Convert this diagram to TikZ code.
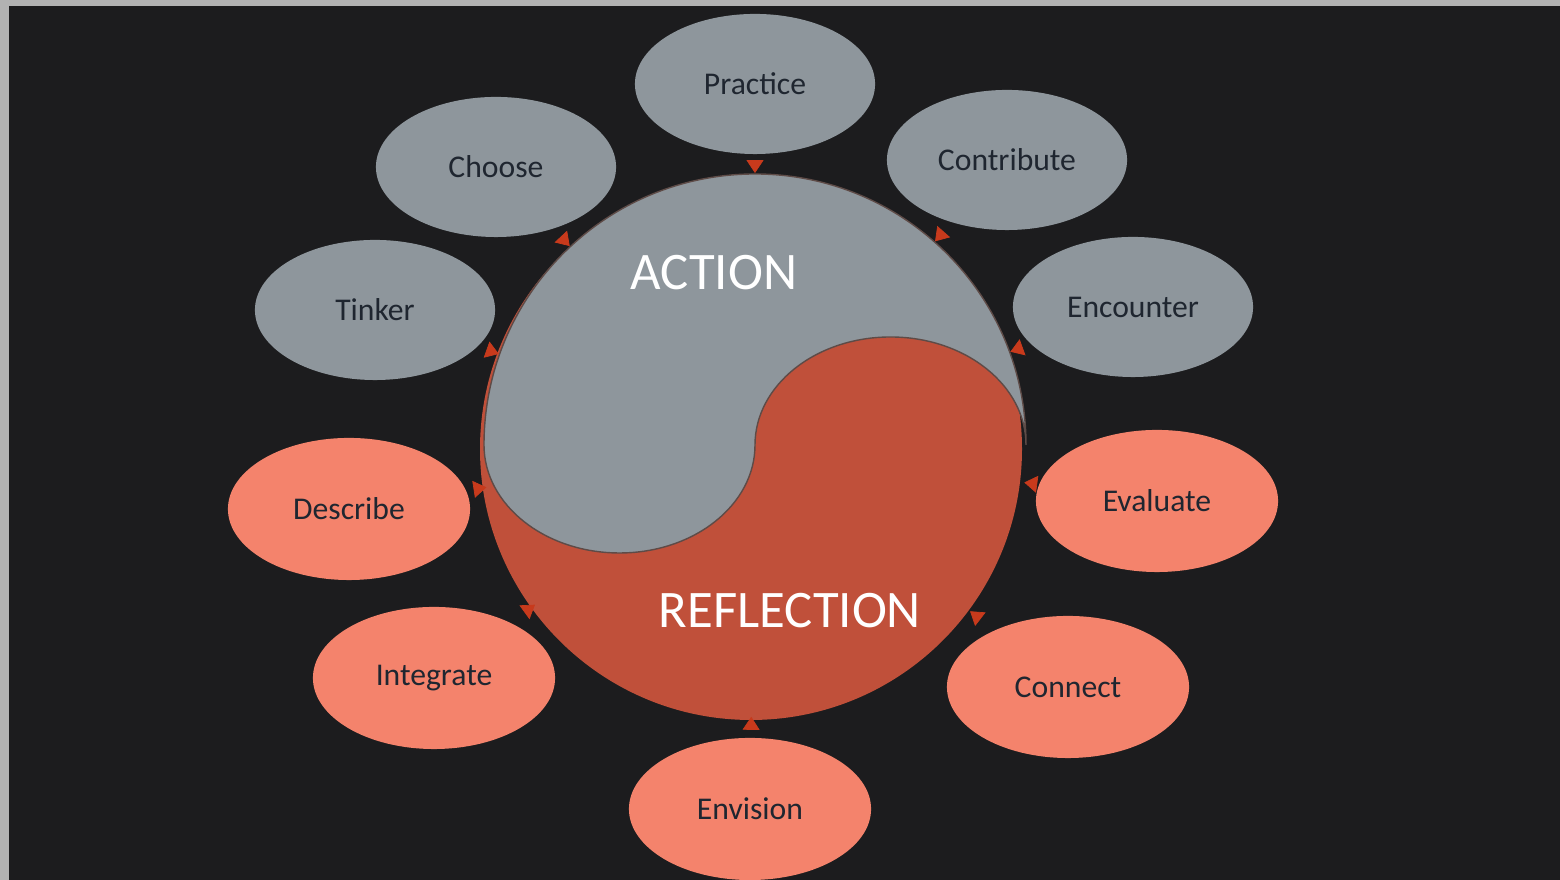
\documentclass[tikz,border=0pt]{standalone}
\usepackage{fontspec}
\setmainfont{Carlito}
\usepackage{xcolor}
\usepackage{tikz}
\usetikzlibrary{shapes.geometric, positioning}
\usetikzlibrary{arrows.meta}
\definecolor{board}{HTML}{1C1C1E}
\definecolor{frame}{HTML}{B2B2B2}
\definecolor{slate}{HTML}{8E969C}
\definecolor{rust}{HTML}{C0503A}
\definecolor{salmon}{HTML}{F4836C}
\definecolor{tipred}{HTML}{C83A1C}
\definecolor{ink}{HTML}{1F2630}
\definecolor{seam}{HTML}{5E4B47}
\tikzset{>={Triangle[width=1.7mm,length=1.3mm,color=tipred]}}

\begin{document}
\begin{tikzpicture}[x=0.01cm, y=0.01cm, actnode/.style={ellipse, fill=slate, text=ink, minimum width=2.4cm, minimum height=1.4cm, font=\fontsize{9}{11}\selectfont}, refnode/.style={ellipse, fill=salmon, text=ink, minimum width=2.42cm, minimum height=1.42cm, font=\fontsize{9}{11}\selectfont}, bigword/.style={text=white, font=\fontsize{15}{18}\selectfont}, link/.style={->, draw=board, line width=0.2pt}]

    %Board
    \useasboundingbox (0,0) rectangle (1560,880);
    \fill[frame] (0,0) rectangle (1560,880);
    \fill[board] (9,0) rectangle (1560,874);

    %Yin-yang
    \fill[rust] (751,431) circle[radius=271];
    \filldraw[fill=slate, draw=seam, line width=0.4pt] (484,435) arc[start angle=180, end angle=0, radius=271]
        arc[start angle=0, end angle=180, x radius=135.5, y radius=108]
        arc[start angle=0, end angle=-180, x radius=135.5, y radius=108] -- cycle;
    \node[circle, minimum size=5.42cm, inner sep=0pt](ring) at (755,435){};
    \node[bigword](action) at (714,607){ACTION};
    \node[bigword](reflection) at (790,269){REFLECTION};

    %Nodes
    \node[actnode](practice) at (755,796){Practice};
    \node[actnode](contribute) at (1007,720){Contribute};
    \node[actnode](encounter) at (1133,573){Encounter};
    \node[actnode](choose) at (496,713){Choose};
    \node[actnode](tinker) at (375,570){Tinker};
    \node[refnode](evaluate) at (1157,379){Evaluate};
    \node[refnode](connect) at (1068,193){Connect};
    \node[refnode](envision) at (750,71){Envision};
    \node[refnode](integrate) at (434,202){Integrate};
    \node[refnode](describe) at (349,371){Describe};

    %Lines
    \foreach \n in {practice, contribute, encounter, choose, tinker, evaluate, connect, envision, integrate, describe}
        \draw[link] (\n) -- (ring);

\end{tikzpicture}
\end{document}
